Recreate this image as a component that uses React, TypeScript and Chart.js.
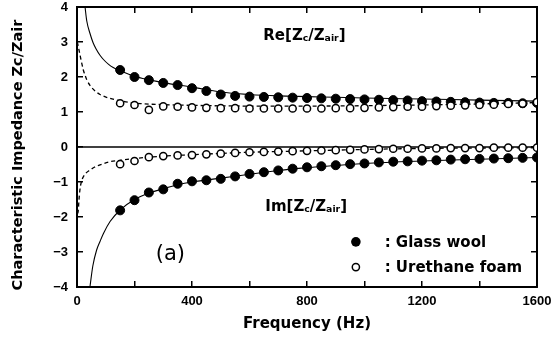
import { useEffect, useRef } from "react";
import { Chart, registerables } from "chart.js";

Chart.register(...registerables);

// Measured samples (Hz) for both materials
const sampleFreq = [
  150, 200, 250, 300, 350, 400, 450, 500, 550, 600, 650, 700, 750, 800, 850,
  900, 950, 1000, 1050, 1100, 1150, 1200, 1250, 1300, 1350, 1400, 1450, 1500,
  1550, 1600,
];

// Glass wool, measured Re / Im of Zc/Zair
const glassRe = [
  2.2, 2.0, 1.91, 1.83, 1.77, 1.68, 1.6, 1.5, 1.46, 1.44, 1.43, 1.42, 1.41,
  1.4, 1.39, 1.38, 1.37, 1.36, 1.35, 1.34, 1.33, 1.31, 1.3, 1.29, 1.28, 1.27,
  1.26, 1.26, 1.25, 1.26,
];
const glassIm = [
  -1.81, -1.52, -1.3, -1.21, -1.05, -0.98, -0.95, -0.91, -0.84, -0.77, -0.72,
  -0.67, -0.62, -0.58, -0.55, -0.52, -0.49, -0.47, -0.44, -0.42, -0.41, -0.39,
  -0.38, -0.36, -0.35, -0.34, -0.33, -0.32, -0.31, -0.3,
];

// Urethane foam, measured Re / Im of Zc/Zair
const foamRe = [
  1.25, 1.2, 1.06, 1.16, 1.15, 1.13, 1.12, 1.11, 1.11, 1.1, 1.1, 1.1, 1.1, 1.1,
  1.1, 1.11, 1.11, 1.12, 1.13, 1.14, 1.15, 1.15, 1.17, 1.18, 1.19, 1.2, 1.21,
  1.23, 1.24, 1.28,
];
const foamIm = [
  -0.49, -0.4, -0.29, -0.26, -0.24, -0.23, -0.21, -0.19, -0.17, -0.15, -0.14,
  -0.13, -0.12, -0.11, -0.1, -0.09, -0.08, -0.07, -0.06, -0.05, -0.05, -0.04,
  -0.04, -0.03, -0.03, -0.03, -0.02, -0.02, -0.02, -0.02,
];

// Predicted curves (glass wool: solid, urethane foam: dashed)
const glassReCurveFreq = [
  28, 34, 45, 56, 68, 80, 92, 110, 126, 150, 200, 250, 300, 400, 500, 600, 700,
  800, 900, 1000, 1200, 1400, 1600,
];
const glassReCurve = [
  4.0, 3.6, 3.25, 2.98, 2.78, 2.62, 2.5, 2.36, 2.27, 2.18, 2.02, 1.92, 1.84,
  1.71, 1.57, 1.5, 1.46, 1.44, 1.42, 1.4, 1.37, 1.34, 1.31,
];
const glassImCurveFreq = [
  45, 55, 68, 80, 92, 115, 150, 200, 250, 300, 350, 400, 500, 600, 700, 800,
  900, 1000, 1200, 1400, 1600,
];
const glassImCurve = [
  -4.0, -3.4, -2.95, -2.7, -2.47, -2.13, -1.8, -1.5, -1.32, -1.19, -1.08, -1.0,
  -0.89, -0.78, -0.67, -0.59, -0.53, -0.47, -0.4, -0.35, -0.3,
];
const foamReCurveFreq = [
  1, 5, 10, 15, 22, 28, 34, 45, 63, 80, 103, 138, 170, 220, 300, 400, 600, 800,
  1000, 1200, 1400, 1600,
];
const foamReCurve = [
  3.0, 2.85, 2.65, 2.45, 2.2, 2.05, 1.92, 1.76, 1.6, 1.5, 1.42, 1.34, 1.29,
  1.24, 1.21, 1.19, 1.17, 1.17, 1.18, 1.2, 1.23, 1.27,
];
const foamImCurveFreq = [
  2, 4, 7, 10, 15, 22, 32, 45, 60, 80, 115, 150, 200, 300, 400, 600, 800, 1000,
  1200, 1400, 1600,
];
const foamImCurve = [
  -1.9, -1.85, -1.5, -1.23, -1.0, -0.85, -0.74, -0.66, -0.58, -0.51, -0.42,
  -0.38, -0.33, -0.26, -0.22, -0.15, -0.11, -0.07, -0.04, -0.03, -0.02,
];

// Axis setup
const xMin = 0;
const xMax = 1600;
const xLabelStep = 400;
const xMarkStep = 200;
const yMin = -4;
const yMax = 4;
const yStep = 1;

// Text
const xTitle = "Frequency (Hz)";
const yTitle = "Characteristic Impedance Zc/Zair";
const reLabel: [string, boolean][] = [["Re[Z", false], ["c", true], ["/Z", false], ["air", true], ["]", false]];
const imLabel: [string, boolean][] = [["Im[Z", false], ["c", true], ["/Z", false], ["air", true], ["]", false]];
const panelLabel = "(a)";
const legendLabels = [": Glass wool", ": Urethane foam"];

const FONT = '"DejaVu Sans", "Liberation Sans", sans-serif';
const TICK_FONT = '"Liberation Sans", Arial, sans-serif';

const toPoints = (xs: number[], ys: number[]) => xs.map((x, i) => ({ x, y: ys[i] }));

function drawRich(ctx: CanvasRenderingContext2D, parts: [string, boolean][], x: number, y: number, size: number) {
  let cx = x;
  for (const [t, sub] of parts) {
    const s = sub ? size * 0.62 : size;
    ctx.font = `bold ${s}px ${FONT}`;
    ctx.fillText(t, cx, sub ? y + 1 : y);
    cx += ctx.measureText(t).width;
  }
}

// Box axes: a solid border on every side plus short inward tick marks
const boxBorder = { display: true, color: "#000", width: 2 };
const inwardGrid = {
  display: true,
  drawOnChartArea: false,
  drawTicks: true,
  tickLength: -6,
  color: "#000",
  lineWidth: 1.5,
};
const hideLabels = { display: false };

const decorPlugin = {
  id: "decor",
  beforeDatasetsDraw(chart: any) {
    const { ctx, chartArea: a, scales } = chart;
    const y0 = scales.y.getPixelForValue(0);
    ctx.save();
    ctx.strokeStyle = "#000";
    ctx.lineWidth = 1.5;
    ctx.beginPath();
    ctx.moveTo(a.left, y0);
    ctx.lineTo(a.right, y0);
    ctx.stroke();
    ctx.restore();
  },
  afterDraw(chart: any) {
    const { ctx, chartArea: a, scales } = chart;
    const xs = scales.x;
    const ys = scales.y;

    ctx.save();
    ctx.fillStyle = "#000";
    ctx.textBaseline = "alphabetic";
    ctx.textAlign = "left";

    drawRich(ctx, reLabel, xs.getPixelForValue(648), ys.getPixelForValue(3.07), 15);
    drawRich(ctx, imLabel, xs.getPixelForValue(655), ys.getPixelForValue(-1.82), 15);

    ctx.font = `21px ${FONT}`;
    ctx.textAlign = "center";
    ctx.textBaseline = "middle";
    ctx.fillText(panelLabel, xs.getPixelForValue(325), ys.getPixelForValue(-3.08));

    // legend
    const mx = xs.getPixelForValue(970);
    const tx = xs.getPixelForValue(1070);
    const rows = [ys.getPixelForValue(-2.71), ys.getPixelForValue(-3.43)];
    ctx.beginPath();
    ctx.arc(mx, rows[0], 4.8, 0, Math.PI * 2);
    ctx.fill();
    ctx.beginPath();
    ctx.arc(mx, rows[1], 3.6, 0, Math.PI * 2);
    ctx.fillStyle = "#fff";
    ctx.fill();
    ctx.lineWidth = 1.5;
    ctx.strokeStyle = "#000";
    ctx.stroke();
    ctx.fillStyle = "#000";
    ctx.textAlign = "left";
    ctx.font = `bold 15px ${FONT}`;
    legendLabels.forEach((t, i) => ctx.fillText(t, tx, rows[i] + 1));

    // y axis title
    ctx.translate(18, (a.top + a.bottom) / 2 + 8);
    ctx.rotate(-Math.PI / 2);
    ctx.textAlign = "center";
    ctx.font = `bold 14.5px ${FONT}`;
    ctx.fillText(yTitle, 0, 0);
    ctx.restore();
  },
};

export default function App() {
  const ref = useRef<HTMLCanvasElement | null>(null);

  useEffect(() => {
    if (!ref.current) return;
    const markers = (data: { x: number; y: number }[], filled: boolean, order: number) => ({
      data,
      showLine: false,
      pointRadius: filled ? 4.5 : 3.6,
      pointBorderWidth: filled ? 1 : 1.5,
      pointBackgroundColor: filled ? "#000" : "#fff",
      pointBorderColor: "#000",
      backgroundColor: filled ? "#000" : "#fff",
      borderColor: "#000",
      order,
    });
    const curve = (data: { x: number; y: number }[], dashed: boolean) => ({
      data,
      showLine: true,
      pointRadius: 0,
      borderColor: "#000",
      borderWidth: dashed ? 1.3 : 1.1,
      borderDash: dashed ? [4, 3] : [],
      cubicInterpolationMode: "monotone",
      order: 3,
    });

    const chart = new Chart(ref.current, {
      type: "scatter",
      data: {
        datasets: [
          markers(toPoints(sampleFreq, foamRe), false, 0),
          markers(toPoints(sampleFreq, foamIm), false, 0),
          markers(toPoints(sampleFreq, glassRe), true, 1),
          markers(toPoints(sampleFreq, glassIm), true, 1),
          curve(toPoints(glassReCurveFreq, glassReCurve), false),
          curve(toPoints(glassImCurveFreq, glassImCurve), false),
          curve(toPoints(foamReCurveFreq, foamReCurve), true),
          curve(toPoints(foamImCurveFreq, foamImCurve), true),
        ] as any,
      },
      options: {
        responsive: false,
        animation: false,
        devicePixelRatio: 1,
        layout: { padding: { top: 7, right: 17, left: 0, bottom: 0 } },
        plugins: { legend: { display: false }, tooltip: { enabled: false } },
        scales: {
          x: {
            type: "linear",
            position: "bottom",
            min: xMin,
            max: xMax,
            afterFit: (s: any) => {
              s.height = 50;
              s.paddingLeft = 0;
              s.paddingRight = 0;
            },
            grid: inwardGrid,
            border: boxBorder,
            ticks: {
              stepSize: xMarkStep,
              padding: 13,
              color: "#000",
              font: { family: TICK_FONT, size: 13, weight: "bold" },
              callback: (v: any) => (Number(v) % xLabelStep === 0 ? String(v) : ""),
            },
            title: {
              display: true,
              text: xTitle,
              color: "#000",
              padding: { top: 0, bottom: 4 },
              font: { family: FONT, size: 15, weight: "bold" },
            },
          },
          xTop: {
            type: "linear",
            position: "top",
            min: xMin,
            max: xMax,
            afterFit: (s: any) => {
              s.height = 0;
              s.paddingLeft = 0;
              s.paddingRight = 0;
            },
            grid: inwardGrid,
            border: boxBorder,
            ticks: { stepSize: xMarkStep, ...hideLabels },
          },
          y: {
            type: "linear",
            position: "left",
            min: yMin,
            max: yMax,
            afterFit: (s: any) => {
              s.width = 77;
              s.paddingTop = 0;
              s.paddingBottom = 0;
            },
            grid: inwardGrid,
            border: boxBorder,
            ticks: {
              stepSize: yStep,
              padding: 15,
              color: "#000",
              font: { family: TICK_FONT, size: 13, weight: "bold" },
              callback: (v: any) => (Number(v) < 0 ? "\u2212" + Math.abs(Number(v)) : String(v)),
            },
          },
          yRight: {
            type: "linear",
            position: "right",
            min: yMin,
            max: yMax,
            afterFit: (s: any) => {
              s.width = 0;
              s.paddingTop = 0;
              s.paddingBottom = 0;
            },
            grid: inwardGrid,
            border: boxBorder,
            ticks: { stepSize: yStep, ...hideLabels },
          },
        },
      } as any,
      plugins: [decorPlugin],
    });
    return () => chart.destroy();
  }, []);

  return (
    <div style={{ position: "absolute", left: 0, top: 0, width: 554, height: 337, background: "#fff" }}>
      <canvas ref={ref} width={554} height={337} />
    </div>
  );
}
